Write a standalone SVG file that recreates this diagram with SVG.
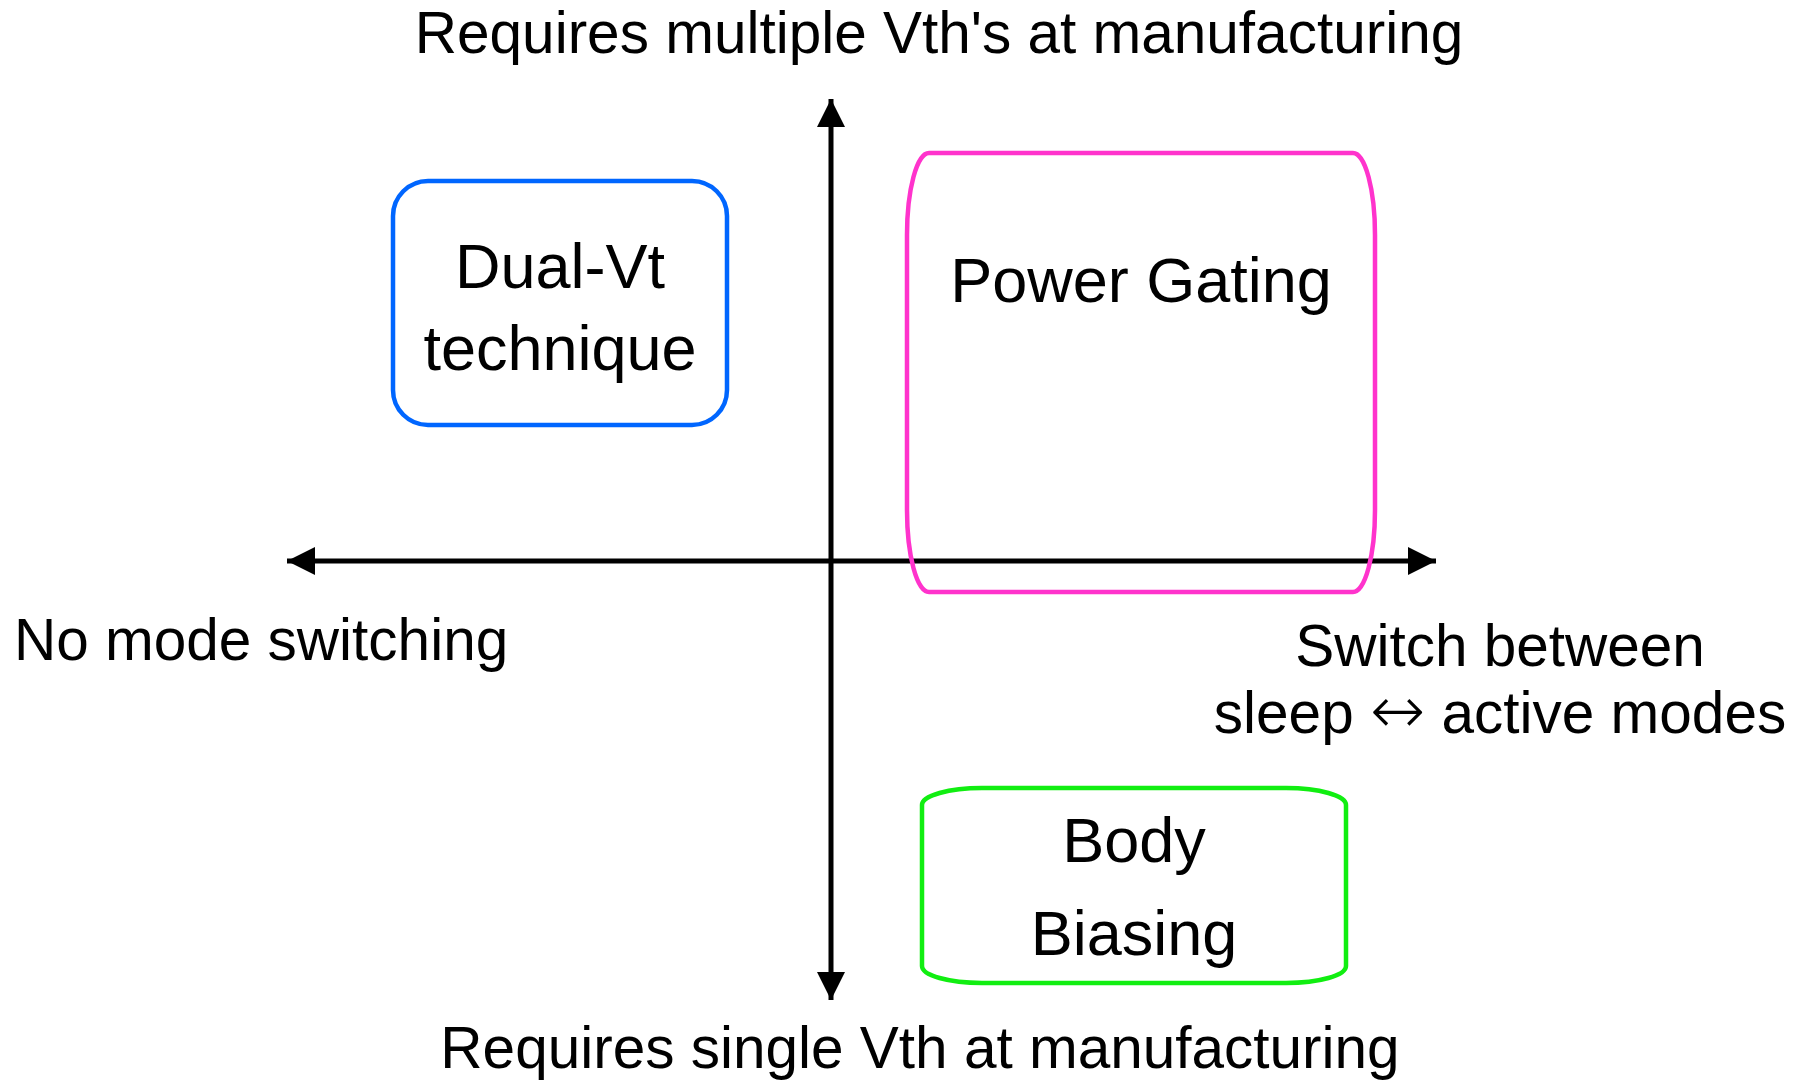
<svg xmlns="http://www.w3.org/2000/svg" width="1807" height="1080" viewBox="0 0 1807 1080">
<defs>
<style>
.t{font-family:"Liberation Sans",Arial,sans-serif;fill:#000;}
.node{font-size:63px;text-anchor:middle;}
.lbl{font-size:58.5px;}
.ax{stroke:#000;stroke-width:5;fill:none;}
.box{fill:none;stroke-width:4.5;}
.sym{font-family:"DejaVu Sans",sans-serif;font-weight:200;}
</style>
<marker id="ah" markerUnits="userSpaceOnUse" markerWidth="28" markerHeight="28" viewBox="0 0 26 26" refX="26" refY="13" orient="auto">
<path d="M0,0 L26,13 L0,26 Z" fill="#000"/>
</marker>
</defs>
<rect width="1807" height="1080" fill="#fff"/>
<g id="connectors">
<line class="ax" x1="831" y1="561" x2="831" y2="99" marker-end="url(#ah)"/>
<line class="ax" x1="831" y1="561" x2="831" y2="1000" marker-end="url(#ah)"/>
<line class="ax" x1="831" y1="561" x2="287" y2="561" marker-end="url(#ah)"/>
<line class="ax" x1="831" y1="561" x2="1436" y2="561" marker-end="url(#ah)"/>
</g>
<g id="dualvt">
<rect class="box" x="393" y="181" width="334" height="244" rx="35" ry="35" stroke="#0066FF"/>
<text class="t node" x="560" y="288">Dual-Vt</text>
<text class="t node" x="560" y="370">technique</text>
</g>
<g id="powergating">
<rect class="box" x="907" y="153" width="468" height="439" rx="22" ry="82" stroke="#FF33CC"/>
<text class="t node" x="1141" y="302">Power Gating</text>
</g>
<g id="bodybiasing">
<rect class="box" x="922" y="788" width="424" height="195" rx="60" ry="17" stroke="#11EE11"/>
<text class="t node" x="1134" y="862">Body</text>
<text class="t node" x="1134" y="955">Biasing</text>
</g>
<g id="labels">
<text class="t lbl" x="939" y="53" text-anchor="middle">Requires multiple Vth's at manufacturing</text>
<text class="t lbl" x="920" y="1068" text-anchor="middle">Requires single Vth at manufacturing</text>
<text class="t lbl" x="14" y="660">No mode switching</text>
<text class="t lbl" x="1500" y="666" text-anchor="middle">Switch between</text>
<text class="t lbl" x="1500" y="733" text-anchor="middle">sleep <tspan class="sym" font-size="66">↔</tspan> active modes</text>
</g>
</svg>
